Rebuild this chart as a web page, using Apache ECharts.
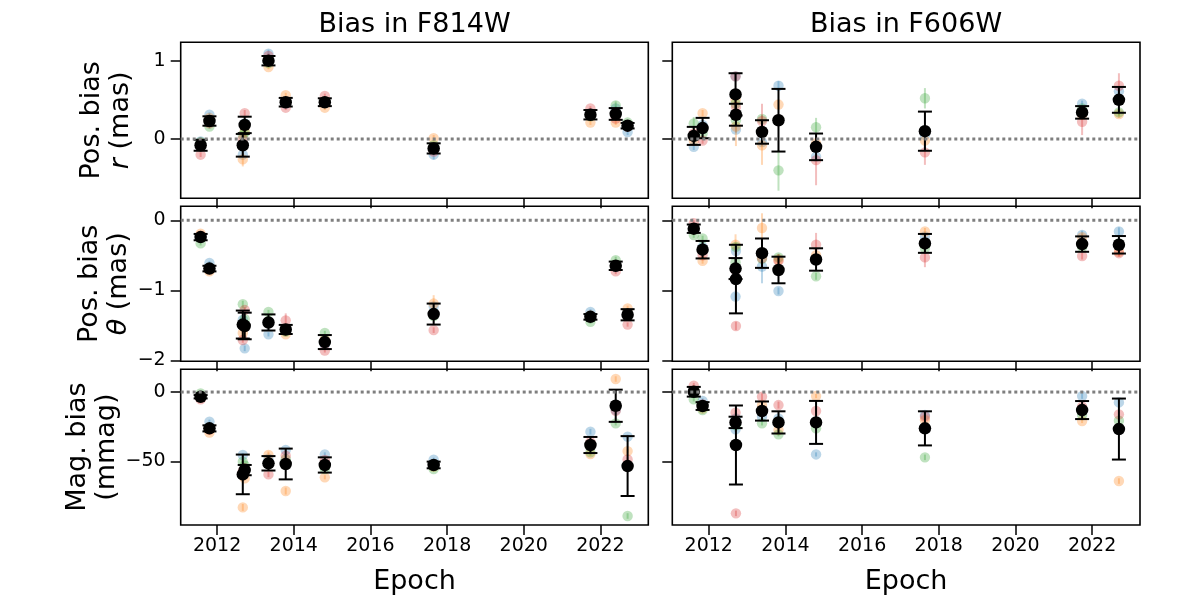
<!DOCTYPE html>
<html>
<head>
<meta charset="utf-8">
<script src="https://cdn.jsdelivr.net/npm/echarts@6/dist/echarts.min.js"></script>
<style>
  html, body { margin: 0; padding: 0; background: #fff; }
  #chart { width: 1200px; height: 600px; }
</style>
</head>
<body>
<div id="chart"></div>
<script>
// epochs (decimal year) of each filter
const epochs814 = [2011.57, 2011.80, 2012.67, 2012.72, 2013.34, 2013.79, 2014.81, 2017.65, 2021.74, 2022.40, 2022.71];
const epochs606 = [2011.61, 2011.84, 2012.70, 2012.71, 2013.39, 2013.82, 2014.80, 2017.64, 2021.74, 2022.70];

// star columns: [blue, orange, green, red]
// radial position bias, mas
const r814Mean = [-0.08, 0.23, -0.08, 0.18, 1.00, 0.47, 0.47, -0.12, 0.31, 0.32, 0.17];
const r814Err = [0.07, 0.06, 0.145, 0.105, 0.06, 0.055, 0.05, 0.065, 0.06, 0.075, 0.035];
const r814Stars = [
  [-0.03, -0.05, -0.04, -0.20], [0.31, 0.27, 0.16, 0.20], [-0.20, -0.26, 0.05, 0.00], [0.20, 0.10, 0.08, 0.33],
  [1.09, 0.92, 0.97, 1.06], [0.45, 0.56, 0.47, 0.40], [0.46, 0.40, 0.48, 0.55], [-0.20, 0.01, -0.08, -0.16],
  [0.33, 0.21, 0.29, 0.39], [0.39, 0.21, 0.43, 0.26], [0.09, 0.18, 0.21, 0.16]
];
const r814StarErr = [
  [0.03, 0.03, 0.03, 0.03], [0.03, 0.03, 0.03, 0.03], [0.04, 0.09, 0.04, 0.04], [0.03, 0.04, 0.04, 0.04],
  [0.05, 0.03, 0.03, 0.03], [0.03, 0.03, 0.03, 0.03], [0.03, 0.03, 0.03, 0.03], [0.06, 0.04, 0.03, 0.03],
  [0.03, 0.03, 0.03, 0.03], [0.03, 0.03, 0.05, 0.03], [0.04, 0.03, 0.03, 0.03]
];
const r606Mean = [0.04, 0.14, 0.57, 0.31, 0.09, 0.24, -0.10, 0.10, 0.34, 0.50];
const r606Err = [0.115, 0.13, 0.27, 0.14, 0.15, 0.40, 0.17, 0.25, 0.08, 0.165];
const r606Stars = [
  [-0.10, -0.02, 0.20, 0.07], [0.18, 0.33, 0.07, -0.02], [0.80, 0.50, 0.45, 0.80], [0.12, 0.16, 0.24, 0.41],
  [-0.04, -0.08, 0.255, 0.23], [0.68, 0.44, -0.40, 0.25], [-0.225, -0.055, 0.15, -0.27], [0.05, -0.02, 0.52, -0.17],
  [0.45, 0.31, 0.39, 0.22], [0.61, 0.32, 0.34, 0.68]
];
const r606StarErr = [
  [0.04, 0.03, 0.08, 0.05], [0.04, 0.04, 0.05, 0.04], [0.05, 0.08, 0.06, 0.05], [0.04, 0.25, 0.06, 0.07],
  [0.05, 0.25, 0.05, 0.22], [0.06, 0.06, 0.26, 0.05], [0.05, 0.05, 0.12, 0.32], [0.04, 0.04, 0.13, 0.16],
  [0.04, 0.04, 0.04, 0.17], [0.04, 0.05, 0.04, 0.16]
];

// tangential position bias, mas
const t814Mean = [-0.24, -0.69, -1.49, -1.51, -1.46, -1.56, -1.74, -1.34, -1.38, -0.65, -1.35];
const t814Err = [0.045, 0.04, 0.20, 0.19, 0.115, 0.065, 0.10, 0.15, 0.04, 0.06, 0.08];
const t814Stars = [
  [-0.24, -0.19, -0.33, -0.22], [-0.61, -0.73, -0.68, -0.70], [-1.42, -1.61, -1.20, -1.71], [-1.83, -1.52, -1.41, -1.28],
  [-1.63, -1.46, -1.31, -1.45], [-1.57, -1.63, -1.59, -1.43], [-1.78, -1.70, -1.61, -1.86], [-1.23, -1.19, -1.37, -1.57],
  [-1.31, -1.36, -1.45, -1.38], [-0.67, -0.64, -0.57, -0.73], [-1.34, -1.26, -1.33, -1.49]
];
const t814StarErr = [
  [0.03, 0.03, 0.03, 0.03], [0.03, 0.03, 0.03, 0.03], [0.04, 0.04, 0.05, 0.04], [0.04, 0.04, 0.04, 0.04],
  [0.03, 0.03, 0.03, 0.03], [0.03, 0.03, 0.03, 0.10], [0.03, 0.03, 0.03, 0.03], [0.04, 0.12, 0.04, 0.04],
  [0.04, 0.03, 0.03, 0.03], [0.03, 0.03, 0.05, 0.04], [0.03, 0.04, 0.03, 0.03]
];
const t606Mean = [-0.12, -0.42, -0.69, -0.84, -0.47, -0.71, -0.56, -0.33, -0.34, -0.35];
const t606Err = [0.06, 0.125, 0.15, 0.49, 0.21, 0.19, 0.16, 0.135, 0.11, 0.125];
const t606Stars = [
  [-0.12, -0.13, -0.21, -0.04], [-0.38, -0.58, -0.26, -0.50], [-1.09, -0.35, -0.60, -0.71], [-0.44, -0.84, -0.38, -1.51],
  [-0.66, -0.11, -0.55, -0.54], [-1.01, -0.56, -0.53, -0.58], [-0.57, -0.50, -0.80, -0.35], [-0.23, -0.16, -0.40, -0.53],
  [-0.21, -0.24, -0.38, -0.51], [-0.16, -0.45, -0.33, -0.47]
];
const t606StarErr = [
  [0.04, 0.04, 0.04, 0.04], [0.05, 0.04, 0.04, 0.05], [0.05, 0.15, 0.05, 0.05], [0.05, 0.05, 0.05, 0.06],
  [0.24, 0.21, 0.05, 0.06], [0.05, 0.05, 0.05, 0.10], [0.05, 0.06, 0.05, 0.17], [0.06, 0.05, 0.05, 0.14],
  [0.06, 0.05, 0.05, 0.05], [0.06, 0.05, 0.05, 0.05]
];

// magnitude bias, mmag
const m814Mean = [-3.4, -26.2, -59.4, -56.3, -51.4, -51.9, -52.6, -52.6, -38.2, -9.9, -53.4];
const m814Err = [1.2, 2.2, 14.3, 3.7, 5.2, 11.1, 5.5, 2.4, 5.8, 11.6, 21.6];
const m814Stars = [
  [-3.0, -4.0, -1.0, -5.3], [-21.4, -29.3, -26.0, -27.0], [-45.4, -83.2, -50.2, -57.0], [-55.0, -62.3, -53.0, -55.0],
  [-48.0, -45.4, -52.0, -59.4], [-41.8, -71.4, -48.5, -45.9], [-45.0, -61.5, -55.5, -49.0], [-48.8, -54.0, -55.5, -52.0],
  [-28.6, -44.7, -43.5, -36.0], [-13.0, 9.4, -22.6, -13.5], [-32.2, -42.6, -89.4, -48.6]
];
const m814StarErr = [
  [1.5, 1.5, 1.5, 1.5], [1.5, 1.5, 1.5, 1.5], [1.5, 2.5, 1.5, 1.5], [1.5, 1.5, 1.5, 1.5],
  [1.5, 2.5, 1.5, 2.0], [1.5, 2.5, 1.5, 1.5], [1.5, 1.5, 1.5, 1.5], [1.5, 1.5, 1.5, 1.5],
  [2.0, 1.5, 1.5, 1.5], [1.5, 2.0, 1.5, 2.0], [1.5, 1.5, 2.0, 1.5]
];
const m606Mean = [0.2, -10.1, -21.9, -38.2, -13.7, -21.9, -21.9, -26.2, -13.0, -26.7];
const m606Err = [3.5, 2.8, 4.1, 28.5, 6.9, 8.0, 15.5, 12.3, 6.5, 22.0];
const m606Stars = [
  [0.0, 1.0, -5.3, 4.6], [-6.5, -12.0, -13.0, -9.0], [-26.9, -22.6, -23.3, -14.9], [-19.0, -22.0, -24.0, -87.5],
  [-17.8, -9.4, -22.6, -3.4], [-19.0, -27.4, -30.5, -9.4], [-45.0, -2.9, -26.2, -13.7], [-16.6, -20.2, -47.1, -17.8],
  [-2.9, -20.9, -16.6, -10.6], [-7.5, -64.2, -20.7, -16.1]
];
const m606StarErr = [
  [1.5, 1.5, 1.5, 2.0], [2.0, 1.5, 1.5, 1.5], [2.0, 1.5, 1.5, 2.0], [1.5, 1.5, 1.5, 2.0],
  [1.5, 1.5, 1.5, 2.5], [2.0, 1.5, 1.5, 2.5], [1.5, 1.5, 1.5, 2.0], [1.5, 1.5, 2.0, 2.5],
  [2.0, 1.5, 1.5, 1.5], [1.5, 2.0, 2.0, 2.0]
];

const xTicks = [2012, 2014, 2016, 2018, 2020, 2022];
const yTicksR = [0, 1];
const yTicksT = [-2, -1, 0];
const yTicksM = [-50, 0];
const starColors = ['#1f77b4', '#ff7f0e', '#2ca02c', '#d62728'];

const FONT = '"DejaVu Sans", sans-serif';
const xRange = [2011.05, 2023.25];
const rows = [
  { range: [-0.757, 1.235], ticks: yTicksR, name: 'Pos. bias\n{i|r} (mas)' },
  { range: [-2.015, 0.2], ticks: yTicksT, name: 'Pos. bias\n{i|θ} (mas)' },
  { range: [-95.9, 16.4], ticks: yTicksM, name: 'Mag. bias\n(mmag)' }
];
const cols = [{ left: 180.7, width: 467.6 }, { left: 672.3, width: 467.7 }];
const rowBoxes = [{ top: 42.3, height: 156 }, { top: 206.3, height: 155 }, { top: 369.3, height: 155.7 }];

const panels = [
  { row: 0, col: 0, x: epochs814, mean: r814Mean, err: r814Err, stars: r814Stars, starErr: r814StarErr },
  { row: 0, col: 1, x: epochs606, mean: r606Mean, err: r606Err, stars: r606Stars, starErr: r606StarErr },
  { row: 1, col: 0, x: epochs814, mean: t814Mean, err: t814Err, stars: t814Stars, starErr: t814StarErr },
  { row: 1, col: 1, x: epochs606, mean: t606Mean, err: t606Err, stars: t606Stars, starErr: t606StarErr },
  { row: 2, col: 0, x: epochs814, mean: m814Mean, err: m814Err, stars: m814Stars, starErr: m814StarErr },
  { row: 2, col: 1, x: epochs606, mean: m606Mean, err: m606Err, stars: m606Stars, starErr: m606StarErr }
];

const minus = v => String(v).replace('-', '\u2212');

function starRender(color) {
  return function (params, api) {
    const x = api.value(0), v = api.value(1), e = api.value(2);
    const p = api.coord([x, v]);
    const hi = api.coord([x, v + e]);
    const lo = api.coord([x, v - e]);
    return {
      type: 'group',
      children: [
        { type: 'line', shape: { x1: p[0], y1: hi[1], x2: p[0], y2: lo[1] },
          style: { stroke: color, lineWidth: 2, opacity: 0.3 } },
        { type: 'circle', shape: { cx: p[0], cy: p[1], r: 5.2 },
          style: { fill: color, opacity: 0.3 } }
      ]
    };
  };
}

function meanErrRender(params, api) {
  const x = api.value(0), v = api.value(1), e = api.value(2);
  const hi = api.coord([x, v + e]);
  const lo = api.coord([x, v - e]);
  const cap = 7;
  const st = { stroke: '#000', lineWidth: 2 };
  return {
    type: 'group',
    children: [
      { type: 'line', shape: { x1: hi[0], y1: hi[1], x2: lo[0], y2: lo[1] }, style: st },
      { type: 'line', shape: { x1: hi[0] - cap, y1: hi[1], x2: hi[0] + cap, y2: hi[1] }, style: st },
      { type: 'line', shape: { x1: lo[0] - cap, y1: lo[1], x2: lo[0] + cap, y2: lo[1] }, style: st }
    ]
  };
}

const grid = [], xAxis = [], yAxis = [], series = [];

panels.forEach((pn, i) => {
  const r = rows[pn.row];
  grid.push({
    left: cols[pn.col].left, width: cols[pn.col].width,
    top: rowBoxes[pn.row].top, height: rowBoxes[pn.row].height,
    show: true, borderColor: '#000', borderWidth: 1.6, backgroundColor: 'transparent'
  });
  xAxis.push({
    type: 'value', gridIndex: i, min: xRange[0], max: xRange[1], position: 'bottom',
    axisLine: { show: false, onZero: false }, splitLine: { show: false },
    axisTick: { show: true, length: 10, customValues: xTicks, lineStyle: { color: '#000', width: 1.5 } },
    axisLabel: { show: pn.row === 2, customValues: xTicks, fontSize: 19, color: '#000', margin: 12,
      fontFamily: FONT, formatter: v => String(v) },
    name: pn.row === 2 ? 'Epoch' : '', nameLocation: 'middle', nameGap: 43,
    nameTextStyle: { fontSize: 27, color: '#000', fontFamily: FONT }
  });
  yAxis.push({
    type: 'value', gridIndex: i, min: r.range[0], max: r.range[1], position: 'left',
    axisLine: { show: false, onZero: false }, splitLine: { show: false },
    axisTick: { show: true, length: 10, customValues: r.ticks, lineStyle: { color: '#000', width: 1.5 } },
    axisLabel: { show: pn.col === 0, customValues: r.ticks, fontSize: 19, color: '#000', margin: 15,
      fontFamily: FONT, formatter: minus },
    name: pn.col === 0 ? r.name : '', nameLocation: 'middle', nameGap: 45, nameRotate: 90,
    nameTextStyle: { fontSize: 27, color: '#000', fontFamily: FONT, lineHeight: 29, align: 'center',
      rich: { i: { fontSize: 27, fontStyle: 'italic', fontFamily: FONT } } }
  });

  // dotted zero reference
  series.push({
    type: 'line', xAxisIndex: i, yAxisIndex: i, silent: true, symbol: 'none',
    data: [[xRange[0], 0], [xRange[1], 0]],
    lineStyle: { color: '#7f7f7f', width: 3, type: [3, 3] }
  });

  starColors.forEach((c, k) => {
    series.push({
      type: 'custom', xAxisIndex: i, yAxisIndex: i, silent: true,
      renderItem: starRender(c),
      encode: { x: 0, y: 1 },
      data: pn.x.map((x, j) => [x, pn.stars[j][k], pn.starErr[j][k]])
    });
  });

  series.push({
    type: 'custom', xAxisIndex: i, yAxisIndex: i, silent: true,
    renderItem: meanErrRender, encode: { x: 0, y: 1 },
    data: pn.x.map((x, j) => [x, pn.mean[j], pn.err[j]])
  });
  series.push({
    type: 'scatter', xAxisIndex: i, yAxisIndex: i, silent: true,
    symbolSize: 12.5, itemStyle: { color: '#000', opacity: 1 },
    data: pn.x.map((x, j) => [x, pn.mean[j]])
  });
});

const chart = echarts.init(document.getElementById('chart'), null, { renderer: 'canvas' });
chart.setOption({
  animation: false,
  backgroundColor: '#fff',
  grid, xAxis, yAxis, series,
  graphic: [
    { type: 'text', x: 414.5, y: 25, style: { text: 'Bias in F814W', fontSize: 27, fontFamily: FONT,
      fill: '#000', textAlign: 'center', textVerticalAlign: 'middle' } },
    { type: 'text', x: 906, y: 25, style: { text: 'Bias in F606W', fontSize: 27, fontFamily: FONT,
      fill: '#000', textAlign: 'center', textVerticalAlign: 'middle' } }
  ]
});
</script>
</body>
</html>
